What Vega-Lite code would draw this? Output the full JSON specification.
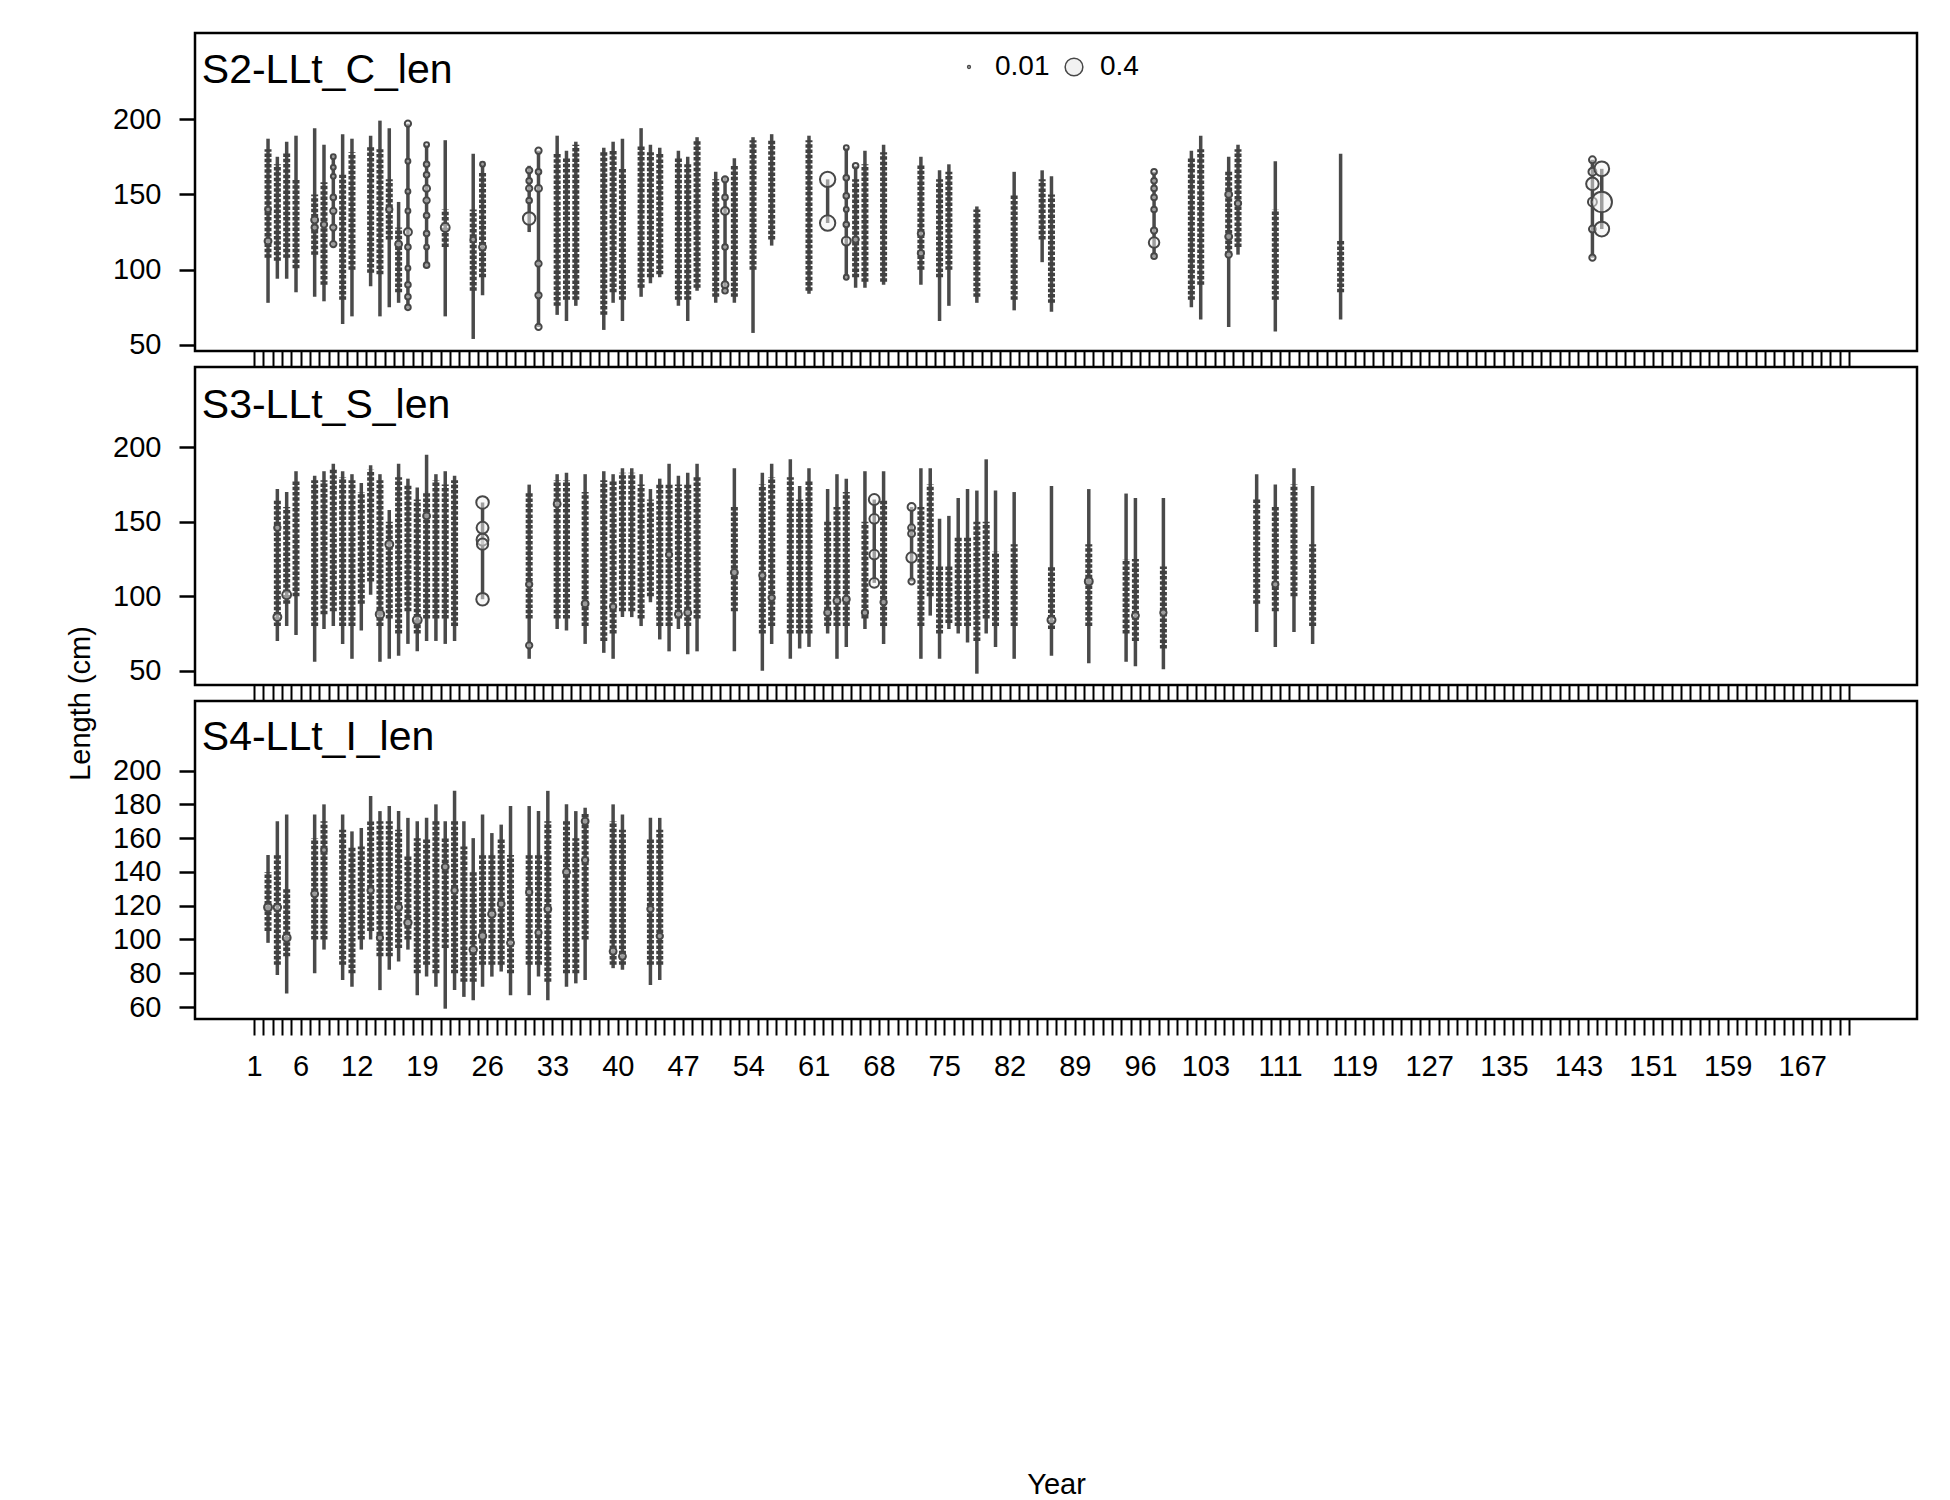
{
"$schema":"https://vega.github.io/schema/vega-lite/v6.json",
"padding":{"left":64,"top":31,"right":0,"bottom":0},
"config":{"font":"Liberation Sans","view":{"stroke":"black","strokeWidth":2.5},
"axis":{"domain":false,"grid":false,"tickColor":"black","labelColor":"black","labelFontSize":29,"titleFontSize":29,"titleFontWeight":"normal","titleColor":"black"},
"axisY":{"tickSize":16,"tickWidth":2.5,"labelPadding":18},
"axisX":{"tickSize":16,"tickWidth":2,"labelPadding":17,"tickCount":400}},
"datasets":{
"c":[
{"p":1,"x":2.5,"lo":78,"hi":187,"a":108,"b":180},{"p":1,"x":3.5,"lo":94,"hi":175,"a":106,"b":170},{"p":1,"x":4.5,"lo":94,"hi":185,"a":108,"b":178},{"p":1,"x":5.5,"lo":85,"hi":189,"a":101,"b":160},{"p":1,"x":7.5,"lo":82,"hi":194,"a":110,"b":150},{"p":1,"x":8.5,"lo":79,"hi":183,"a":90,"b":158},{"p":1,"x":9.5,"lo":115,"hi":176},{"p":1,"x":10.5,"lo":64,"hi":190,"a":80,"b":163},{"p":1,"x":11.5,"lo":69,"hi":187,"a":100,"b":178},{"p":1,"x":13.5,"lo":89,"hi":189,"a":98,"b":182},{"p":1,"x":14.5,"lo":69,"hi":199,"a":97,"b":180},{"p":1,"x":15.5,"lo":75,"hi":194,"a":120,"b":160},{"p":1,"x":16.5,"lo":78,"hi":145,"a":85,"b":128},{"p":1,"x":17.5,"lo":74,"hi":197},{"p":1,"x":19.5,"lo":101,"hi":183},{"p":1,"x":21.5,"lo":69,"hi":186,"a":115,"b":140},{"p":1,"x":24.5,"lo":54,"hi":177,"a":86,"b":140},{"p":1,"x":25.5,"lo":83,"hi":171,"a":95,"b":165},{"p":1,"x":30.5,"lo":125,"hi":169},{"p":1,"x":31.5,"lo":62,"hi":179},{"p":1,"x":33.5,"lo":70,"hi":189,"a":76,"b":177},{"p":1,"x":34.5,"lo":66,"hi":179,"a":80,"b":175},{"p":1,"x":35.5,"lo":76,"hi":185,"a":80,"b":183},{"p":1,"x":38.5,"lo":60,"hi":181,"a":70,"b":178},{"p":1,"x":39.5,"lo":78,"hi":185,"a":85,"b":180},{"p":1,"x":40.5,"lo":66,"hi":187,"a":80,"b":168},{"p":1,"x":42.5,"lo":82,"hi":194,"a":88,"b":183},{"p":1,"x":43.5,"lo":91,"hi":183,"a":95,"b":178},{"p":1,"x":44.5,"lo":95,"hi":181,"a":97,"b":178},{"p":1,"x":46.5,"lo":76,"hi":179,"a":80,"b":175},{"p":1,"x":47.5,"lo":66,"hi":175,"a":80,"b":170},{"p":1,"x":48.5,"lo":86,"hi":188,"a":88,"b":186},{"p":1,"x":50.5,"lo":78,"hi":165,"a":82,"b":160},{"p":1,"x":51.5,"lo":85,"hi":162},{"p":1,"x":52.5,"lo":78,"hi":174,"a":82,"b":170},{"p":1,"x":54.5,"lo":58,"hi":188,"a":100,"b":186},{"p":1,"x":56.5,"lo":116,"hi":190,"a":120,"b":186},{"p":1,"x":60.5,"lo":84,"hi":189,"a":86,"b":186},{"p":1,"x":62.5,"lo":131,"hi":160},{"p":1,"x":64.5,"lo":94,"hi":181},{"p":1,"x":65.5,"lo":88,"hi":169,"a":95,"b":160},{"p":1,"x":66.5,"lo":88,"hi":179,"a":92,"b":170},{"p":1,"x":68.5,"lo":90,"hi":183,"a":92,"b":178},{"p":1,"x":72.5,"lo":90,"hi":175,"a":100,"b":170},{"p":1,"x":74.5,"lo":66,"hi":166,"a":95,"b":160},{"p":1,"x":75.5,"lo":76,"hi":170,"a":100,"b":165},{"p":1,"x":78.5,"lo":78,"hi":142,"a":82,"b":140},{"p":1,"x":82.5,"lo":73,"hi":165,"a":80,"b":150},{"p":1,"x":85.5,"lo":105,"hi":166,"a":120,"b":160},{"p":1,"x":86.5,"lo":72,"hi":162,"a":78,"b":150},{"p":1,"x":97.5,"lo":108,"hi":165},{"p":1,"x":101.5,"lo":75,"hi":179,"a":80,"b":175},{"p":1,"x":102.5,"lo":67,"hi":189,"a":90,"b":180},{"p":1,"x":105.5,"lo":62,"hi":175,"a":110,"b":165},{"p":1,"x":106.5,"lo":110,"hi":183,"a":115,"b":180},{"p":1,"x":110.5,"lo":59,"hi":172,"a":80,"b":140},{"p":1,"x":117.5,"lo":67,"hi":177,"a":85,"b":120},{"p":1,"x":144.5,"lo":108,"hi":173},{"p":1,"x":145.5,"lo":127,"hi":167},
{"p":2,"x":3.5,"lo":70,"hi":172,"a":80,"b":165},{"p":2,"x":4.5,"lo":80,"hi":170,"a":95,"b":160},{"p":2,"x":5.5,"lo":74,"hi":184,"a":100,"b":178},{"p":2,"x":7.5,"lo":56,"hi":181,"a":80,"b":178},{"p":2,"x":8.5,"lo":78,"hi":184,"a":88,"b":178},{"p":2,"x":9.5,"lo":80,"hi":189,"a":90,"b":185},{"p":2,"x":10.5,"lo":68,"hi":184,"a":80,"b":180},{"p":2,"x":11.5,"lo":58,"hi":182,"a":80,"b":178},{"p":2,"x":12.5,"lo":77,"hi":176,"a":95,"b":170},{"p":2,"x":13.5,"lo":101,"hi":188,"a":110,"b":185},{"p":2,"x":14.5,"lo":56,"hi":182,"a":80,"b":178},{"p":2,"x":15.5,"lo":58,"hi":158,"a":85,"b":150},{"p":2,"x":16.5,"lo":60,"hi":189,"a":75,"b":180},{"p":2,"x":17.5,"lo":68,"hi":179,"a":90,"b":175},{"p":2,"x":18.5,"lo":63,"hi":173,"a":75,"b":165},{"p":2,"x":19.5,"lo":70,"hi":195,"a":85,"b":170},{"p":2,"x":20.5,"lo":70,"hi":182,"a":85,"b":178},{"p":2,"x":21.5,"lo":68,"hi":184,"a":85,"b":175},{"p":2,"x":22.5,"lo":70,"hi":181,"a":80,"b":178},{"p":2,"x":25.5,"lo":98,"hi":163},{"p":2,"x":30.5,"lo":58,"hi":175,"a":85,"b":170},{"p":2,"x":33.5,"lo":78,"hi":182,"a":85,"b":178},{"p":2,"x":34.5,"lo":77,"hi":183,"a":85,"b":178},{"p":2,"x":36.5,"lo":68,"hi":182,"a":80,"b":170},{"p":2,"x":38.5,"lo":62,"hi":184,"a":70,"b":178},{"p":2,"x":39.5,"lo":58,"hi":182,"a":75,"b":178},{"p":2,"x":40.5,"lo":86,"hi":186,"a":90,"b":183},{"p":2,"x":41.5,"lo":86,"hi":186,"a":90,"b":183},{"p":2,"x":42.5,"lo":80,"hi":182,"a":85,"b":175},{"p":2,"x":43.5,"lo":96,"hi":172,"a":100,"b":165},{"p":2,"x":44.5,"lo":71,"hi":179,"a":80,"b":175},{"p":2,"x":45.5,"lo":63,"hi":189,"a":80,"b":175},{"p":2,"x":46.5,"lo":78,"hi":181,"a":85,"b":175},{"p":2,"x":47.5,"lo":61,"hi":183,"a":80,"b":175},{"p":2,"x":48.5,"lo":63,"hi":189,"a":85,"b":180},{"p":2,"x":52.5,"lo":63,"hi":186,"a":90,"b":160},{"p":2,"x":55.5,"lo":50,"hi":183,"a":75,"b":175},{"p":2,"x":56.5,"lo":68,"hi":189,"a":80,"b":180},{"p":2,"x":58.5,"lo":58,"hi":192,"a":75,"b":180},{"p":2,"x":59.5,"lo":65,"hi":174,"a":75,"b":165},{"p":2,"x":60.5,"lo":66,"hi":186,"a":75,"b":178},{"p":2,"x":62.5,"lo":75,"hi":172,"a":80,"b":150},{"p":2,"x":63.5,"lo":58,"hi":182,"a":80,"b":160},{"p":2,"x":64.5,"lo":66,"hi":179,"a":80,"b":170},{"p":2,"x":66.5,"lo":78,"hi":184,"a":85,"b":150},{"p":2,"x":67.5,"lo":109,"hi":165},{"p":2,"x":68.5,"lo":68,"hi":184,"a":80,"b":165},{"p":2,"x":71.5,"lo":110,"hi":160},{"p":2,"x":72.5,"lo":58,"hi":186,"a":80,"b":160},{"p":2,"x":73.5,"lo":87,"hi":186,"a":100,"b":175},{"p":2,"x":74.5,"lo":58,"hi":152,"a":75,"b":120},{"p":2,"x":75.5,"lo":78,"hi":154,"a":82,"b":120},{"p":2,"x":76.5,"lo":75,"hi":166,"a":80,"b":140},{"p":2,"x":77.5,"lo":69,"hi":172,"a":80,"b":140},{"p":2,"x":78.5,"lo":48,"hi":171,"a":70,"b":150},{"p":2,"x":79.5,"lo":75,"hi":192,"a":85,"b":150},{"p":2,"x":80.5,"lo":66,"hi":171,"a":80,"b":130},{"p":2,"x":82.5,"lo":58,"hi":170,"a":80,"b":135},{"p":2,"x":86.5,"lo":60,"hi":174,"a":78,"b":120},{"p":2,"x":90.5,"lo":55,"hi":172,"a":80,"b":135},{"p":2,"x":94.5,"lo":56,"hi":169,"a":75,"b":125},{"p":2,"x":95.5,"lo":53,"hi":166,"a":70,"b":125},{"p":2,"x":98.5,"lo":51,"hi":166,"a":65,"b":120},{"p":2,"x":108.5,"lo":76,"hi":182,"a":95,"b":165},{"p":2,"x":110.5,"lo":66,"hi":175,"a":90,"b":160},{"p":2,"x":112.5,"lo":76,"hi":186,"a":100,"b":175},{"p":2,"x":114.5,"lo":68,"hi":174,"a":80,"b":135},
{"p":3,"x":2.5,"lo":98,"hi":150,"a":105,"b":140},{"p":3,"x":3.5,"lo":79,"hi":170,"a":85,"b":150},{"p":3,"x":4.5,"lo":68,"hi":174,"a":90,"b":130},{"p":3,"x":7.5,"lo":80,"hi":174,"a":100,"b":160},{"p":3,"x":8.5,"lo":94,"hi":180,"a":100,"b":170},{"p":3,"x":10.5,"lo":76,"hi":174,"a":85,"b":165},{"p":3,"x":11.5,"lo":72,"hi":164,"a":80,"b":155},{"p":3,"x":12.5,"lo":94,"hi":166,"a":100,"b":155},{"p":3,"x":13.5,"lo":100,"hi":185,"a":105,"b":170},{"p":3,"x":14.5,"lo":70,"hi":176,"a":90,"b":170},{"p":3,"x":15.5,"lo":82,"hi":179,"a":90,"b":170},{"p":3,"x":16.5,"lo":87,"hi":176,"a":95,"b":165},{"p":3,"x":17.5,"lo":94,"hi":172,"a":100,"b":150},{"p":3,"x":18.5,"lo":67,"hi":170,"a":80,"b":160},{"p":3,"x":19.5,"lo":78,"hi":172,"a":85,"b":160},{"p":3,"x":20.5,"lo":72,"hi":180,"a":80,"b":170},{"p":3,"x":21.5,"lo":59,"hi":170,"a":95,"b":160},{"p":3,"x":22.5,"lo":70,"hi":188,"a":80,"b":170},{"p":3,"x":23.5,"lo":66,"hi":170,"a":75,"b":155},{"p":3,"x":24.5,"lo":64,"hi":160,"a":75,"b":140},{"p":3,"x":25.5,"lo":72,"hi":174,"a":85,"b":150},{"p":3,"x":26.5,"lo":78,"hi":163,"a":85,"b":150},{"p":3,"x":27.5,"lo":81,"hi":168,"a":85,"b":160},{"p":3,"x":28.5,"lo":67,"hi":179,"a":80,"b":150},{"p":3,"x":30.5,"lo":67,"hi":179,"a":85,"b":150},{"p":3,"x":31.5,"lo":78,"hi":176,"a":85,"b":150},{"p":3,"x":32.5,"lo":64,"hi":188,"a":75,"b":170},{"p":3,"x":34.5,"lo":72,"hi":180,"a":80,"b":170},{"p":3,"x":35.5,"lo":74,"hi":176,"a":80,"b":160},{"p":3,"x":36.5,"lo":76,"hi":178,"a":100,"b":175},{"p":3,"x":39.5,"lo":83,"hi":180,"a":85,"b":170},{"p":3,"x":40.5,"lo":82,"hi":174,"a":85,"b":165},{"p":3,"x":43.5,"lo":73,"hi":172,"a":85,"b":160},{"p":3,"x":44.5,"lo":76,"hi":172,"a":85,"b":165}
],
"b":[
{"p":1,"x":2.5,"l":119,"s":0.06},{"p":1,"x":2.5,"l":140,"s":0.04},{"p":1,"x":7.5,"l":133,"s":0.06},{"p":1,"x":7.5,"l":128,"s":0.05},{"p":1,"x":8.5,"l":130,"s":0.05},
{"p":1,"x":9.5,"l":175,"s":0.03},{"p":1,"x":9.5,"l":168,"s":0.03},{"p":1,"x":9.5,"l":162,"s":0.03},{"p":1,"x":9.5,"l":148,"s":0.04},{"p":1,"x":9.5,"l":139,"s":0.05},{"p":1,"x":9.5,"l":128,"s":0.05},{"p":1,"x":9.5,"l":117,"s":0.05},
{"p":1,"x":15.5,"l":140,"s":0.05},{"p":1,"x":16.5,"l":117,"s":0.06},
{"p":1,"x":17.5,"l":197,"s":0.05},{"p":1,"x":17.5,"l":172,"s":0.03},{"p":1,"x":17.5,"l":152,"s":0.03},{"p":1,"x":17.5,"l":139,"s":0.03},{"p":1,"x":17.5,"l":125,"s":0.08},{"p":1,"x":17.5,"l":115,"s":0.04},{"p":1,"x":17.5,"l":101,"s":0.03},{"p":1,"x":17.5,"l":90,"s":0.04},{"p":1,"x":17.5,"l":82,"s":0.04},{"p":1,"x":17.5,"l":75,"s":0.04},
{"p":1,"x":19.5,"l":183,"s":0.03},{"p":1,"x":19.5,"l":170,"s":0.04},{"p":1,"x":19.5,"l":163,"s":0.04},{"p":1,"x":19.5,"l":154,"s":0.06},{"p":1,"x":19.5,"l":146,"s":0.05},{"p":1,"x":19.5,"l":136,"s":0.04},{"p":1,"x":19.5,"l":124,"s":0.04},{"p":1,"x":19.5,"l":115,"s":0.03},{"p":1,"x":19.5,"l":103,"s":0.04},
{"p":1,"x":21.5,"l":128,"s":0.1},{"p":1,"x":24.5,"l":120,"s":0.04},{"p":1,"x":25.5,"l":115,"s":0.06},{"p":1,"x":25.5,"l":170,"s":0.03},
{"p":1,"x":30.5,"l":166,"s":0.05},{"p":1,"x":30.5,"l":159,"s":0.04},{"p":1,"x":30.5,"l":154,"s":0.05},{"p":1,"x":30.5,"l":146,"s":0.04},{"p":1,"x":30.5,"l":134,"s":0.2},
{"p":1,"x":31.5,"l":179,"s":0.05},{"p":1,"x":31.5,"l":165,"s":0.04},{"p":1,"x":31.5,"l":154,"s":0.06},{"p":1,"x":31.5,"l":104,"s":0.05},{"p":1,"x":31.5,"l":83,"s":0.05},{"p":1,"x":31.5,"l":62,"s":0.05},
{"p":1,"x":51.5,"l":160,"s":0.05},{"p":1,"x":51.5,"l":148,"s":0.04},{"p":1,"x":51.5,"l":139,"s":0.08},{"p":1,"x":51.5,"l":115,"s":0.04},{"p":1,"x":51.5,"l":90,"s":0.06},{"p":1,"x":51.5,"l":86,"s":0.04},
{"p":1,"x":62.5,"l":160,"s":0.3},{"p":1,"x":62.5,"l":131,"s":0.3},
{"p":1,"x":64.5,"l":181,"s":0.03},{"p":1,"x":64.5,"l":161,"s":0.04},{"p":1,"x":64.5,"l":149,"s":0.04},{"p":1,"x":64.5,"l":140,"s":0.03},{"p":1,"x":64.5,"l":130,"s":0.04},{"p":1,"x":64.5,"l":119,"s":0.1},{"p":1,"x":64.5,"l":95,"s":0.03},
{"p":1,"x":65.5,"l":169,"s":0.04},{"p":1,"x":65.5,"l":120,"s":0.05},{"p":1,"x":72.5,"l":124,"s":0.05},{"p":1,"x":72.5,"l":111,"s":0.05},
{"p":1,"x":97.5,"l":165,"s":0.04},{"p":1,"x":97.5,"l":159,"s":0.04},{"p":1,"x":97.5,"l":154,"s":0.04},{"p":1,"x":97.5,"l":148,"s":0.04},{"p":1,"x":97.5,"l":140,"s":0.04},{"p":1,"x":97.5,"l":126,"s":0.05},{"p":1,"x":97.5,"l":118,"s":0.14},{"p":1,"x":97.5,"l":109,"s":0.04},
{"p":1,"x":105.5,"l":150,"s":0.06},{"p":1,"x":105.5,"l":122,"s":0.06},{"p":1,"x":105.5,"l":110,"s":0.05},{"p":1,"x":106.5,"l":144,"s":0.05},
{"p":1,"x":144.5,"l":173,"s":0.06},{"p":1,"x":144.5,"l":165,"s":0.08},{"p":1,"x":144.5,"l":157,"s":0.2},{"p":1,"x":144.5,"l":145,"s":0.1},{"p":1,"x":144.5,"l":127,"s":0.06},{"p":1,"x":144.5,"l":108,"s":0.05},
{"p":1,"x":145.5,"l":167,"s":0.28},{"p":1,"x":145.5,"l":145,"s":0.53},{"p":1,"x":145.5,"l":127,"s":0.28},
{"p":2,"x":3.5,"l":86,"s":0.08},{"p":2,"x":3.5,"l":146,"s":0.05},{"p":2,"x":4.5,"l":101,"s":0.1},{"p":2,"x":14.5,"l":88,"s":0.09},{"p":2,"x":15.5,"l":135,"s":0.08},{"p":2,"x":18.5,"l":84,"s":0.1},{"p":2,"x":19.5,"l":154,"s":0.06},
{"p":2,"x":25.5,"l":163,"s":0.2},{"p":2,"x":25.5,"l":146,"s":0.18},{"p":2,"x":25.5,"l":138,"s":0.18},{"p":2,"x":25.5,"l":135,"s":0.16},{"p":2,"x":25.5,"l":98,"s":0.2},
{"p":2,"x":30.5,"l":108,"s":0.05},{"p":2,"x":30.5,"l":67,"s":0.05},{"p":2,"x":33.5,"l":162,"s":0.06},{"p":2,"x":36.5,"l":95,"s":0.06},{"p":2,"x":39.5,"l":93,"s":0.05},{"p":2,"x":45.5,"l":128,"s":0.05},{"p":2,"x":46.5,"l":88,"s":0.06},{"p":2,"x":47.5,"l":89,"s":0.06},{"p":2,"x":52.5,"l":116,"s":0.06},{"p":2,"x":55.5,"l":114,"s":0.05},{"p":2,"x":56.5,"l":99,"s":0.05},{"p":2,"x":62.5,"l":89,"s":0.06},{"p":2,"x":63.5,"l":97,"s":0.06},{"p":2,"x":64.5,"l":98,"s":0.06},{"p":2,"x":66.5,"l":89,"s":0.05},
{"p":2,"x":67.5,"l":165,"s":0.15},{"p":2,"x":67.5,"l":152,"s":0.12},{"p":2,"x":67.5,"l":128,"s":0.12},{"p":2,"x":67.5,"l":109,"s":0.12},{"p":2,"x":68.5,"l":96,"s":0.05},
{"p":2,"x":71.5,"l":160,"s":0.08},{"p":2,"x":71.5,"l":146,"s":0.06},{"p":2,"x":71.5,"l":142,"s":0.06},{"p":2,"x":71.5,"l":126,"s":0.14},{"p":2,"x":71.5,"l":110,"s":0.05},
{"p":2,"x":86.5,"l":84,"s":0.08},{"p":2,"x":90.5,"l":110,"s":0.08},{"p":2,"x":95.5,"l":87,"s":0.06},{"p":2,"x":98.5,"l":89,"s":0.05},{"p":2,"x":110.5,"l":108,"s":0.05},
{"p":3,"x":2.5,"l":119,"s":0.08},{"p":3,"x":3.5,"l":119,"s":0.07},{"p":3,"x":4.5,"l":101,"s":0.08},{"p":3,"x":7.5,"l":127,"s":0.06},{"p":3,"x":8.5,"l":153,"s":0.04},{"p":3,"x":13.5,"l":129,"s":0.05},{"p":3,"x":14.5,"l":101,"s":0.05},{"p":3,"x":16.5,"l":119,"s":0.06},{"p":3,"x":17.5,"l":110,"s":0.07},{"p":3,"x":21.5,"l":143,"s":0.06},{"p":3,"x":22.5,"l":129,"s":0.05},{"p":3,"x":24.5,"l":94,"s":0.07},{"p":3,"x":25.5,"l":102,"s":0.07},{"p":3,"x":26.5,"l":115,"s":0.07},{"p":3,"x":27.5,"l":121,"s":0.06},{"p":3,"x":28.5,"l":98,"s":0.06},{"p":3,"x":30.5,"l":128,"s":0.05},{"p":3,"x":31.5,"l":104,"s":0.05},{"p":3,"x":32.5,"l":118,"s":0.06},{"p":3,"x":34.5,"l":140,"s":0.06},{"p":3,"x":36.5,"l":170,"s":0.06},{"p":3,"x":36.5,"l":147,"s":0.05},{"p":3,"x":39.5,"l":93,"s":0.06},{"p":3,"x":40.5,"l":90,"s":0.06},{"p":3,"x":43.5,"l":118,"s":0.05},{"p":3,"x":44.5,"l":102,"s":0.05}
]},
"spacing":16,
"bounds":"flush",
"resolve":{"scale":{"size":"independent"}},
"vconcat":[
{"width":1722,"height":318,
"layer":[
{"data":{"name":"c"},"transform":[{"filter":"datum.p==1"}],"mark":{"type":"rule","color":"#4a4a4a","strokeWidth":3.5},
"encoding":{"x":{"field":"x","type":"quantitative","scale":{"domain":[-5.33,179.3],"nice":false,"zero":false},"axis":{"values":[1,2,3,4,5,6,7,8,9,10,11,12,13,14,15,16,17,18,19,20,21,22,23,24,25,26,27,28,29,30,31,32,33,34,35,36,37,38,39,40,41,42,43,44,45,46,47,48,49,50,51,52,53,54,55,56,57,58,59,60,61,62,63,64,65,66,67,68,69,70,71,72,73,74,75,76,77,78,79,80,81,82,83,84,85,86,87,88,89,90,91,92,93,94,95,96,97,98,99,100,101,102,103,104,105,106,107,108,109,110,111,112,113,114,115,116,117,118,119,120,121,122,123,124,125,126,127,128,129,130,131,132,133,134,135,136,137,138,139,140,141,142,143,144,145,146,147,148,149,150,151,152,153,154,155,156,157,158,159,160,161,162,163,164,165,166,167,168,169,170,171,172],"tickCount":400,"labels":false,"title":null}},
"y":{"field":"lo","type":"quantitative","scale":{"domain":[46,257.2],"nice":false,"zero":false},"axis":{"values":[50,100,150,200],"title":null}},"y2":{"field":"hi"}}},
{"data":{"name":"c"},"transform":[{"filter":"datum.p==1"}],"mark":{"type":"rule","color":"#404040","strokeWidth":7,"strokeDash":[3.5,1.8]},
"encoding":{"x":{"field":"x","type":"quantitative","scale":{"domain":[-5.33,179.3],"nice":false,"zero":false}},
"y":{"field":"a","type":"quantitative","scale":{"domain":[46,257.2],"nice":false,"zero":false}},"y2":{"field":"b"}}},
{"data":{"name":"b"},"transform":[{"filter":"datum.p==1"}],"mark":{"type":"point","shape":"circle","filled":true,"fill":"#f2f2f2","fillOpacity":0.5,"stroke":"#474747","strokeWidth":2,"opacity":1},
"encoding":{"x":{"field":"x","type":"quantitative","scale":{"domain":[-5.33,179.3],"nice":false,"zero":false}},
"y":{"field":"l","type":"quantitative","scale":{"domain":[46,257.2],"nice":false,"zero":false}},
"size":{"field":"s","type":"quantitative","scale":{"type":"linear","domain":[0,0.4],"range":[0,314],"zero":true},
"legend":{"values":[0.01,0.4],"direction":"horizontal","orient":"none","legendX":760,"legendY":20,"title":null,"labelFontSize":28,"labelOffset":12,"columnPadding":10,"symbolType":"circle","format":"~g","labelColor":"black","encode":{"symbols":{"update":{"stroke":{"value":"#4a4a4a"},"strokeWidth":{"value":2},"fill":{"value":"#ffffff"},"fillOpacity":{"value":1},"opacity":{"value":1}}}}}}}},
{"data":{"values":[{"t":"S2-LLt_C_len"}]},"mark":{"type":"text","align":"left","baseline":"alphabetic","fontSize":41,"color":"black"},
"encoding":{"text":{"field":"t"},"x":{"datum":-4.6,"type":"quantitative","scale":{"domain":[-5.33,179.3],"nice":false,"zero":false}},"y":{"datum":224.3,"type":"quantitative","scale":{"domain":[46,257.2],"nice":false,"zero":false}}}}
]},
{"width":1722,"height":318,
"layer":[
{"data":{"name":"c"},"transform":[{"filter":"datum.p==2"}],"mark":{"type":"rule","color":"#4a4a4a","strokeWidth":3.5},
"encoding":{"x":{"field":"x","type":"quantitative","scale":{"domain":[-5.33,179.3],"nice":false,"zero":false},"axis":{"values":[1,2,3,4,5,6,7,8,9,10,11,12,13,14,15,16,17,18,19,20,21,22,23,24,25,26,27,28,29,30,31,32,33,34,35,36,37,38,39,40,41,42,43,44,45,46,47,48,49,50,51,52,53,54,55,56,57,58,59,60,61,62,63,64,65,66,67,68,69,70,71,72,73,74,75,76,77,78,79,80,81,82,83,84,85,86,87,88,89,90,91,92,93,94,95,96,97,98,99,100,101,102,103,104,105,106,107,108,109,110,111,112,113,114,115,116,117,118,119,120,121,122,123,124,125,126,127,128,129,130,131,132,133,134,135,136,137,138,139,140,141,142,143,144,145,146,147,148,149,150,151,152,153,154,155,156,157,158,159,160,161,162,163,164,165,166,167,168,169,170,171,172],"tickCount":400,"labels":false,"title":null}},
"y":{"field":"lo","type":"quantitative","scale":{"domain":[40.4,254],"nice":false,"zero":false},"axis":{"values":[50,100,150,200],"title":"Length (cm)","titleX":-115,"titleY":336,"titleAngle":-90,"titleBaseline":"middle","titleAlign":"center"}},"y2":{"field":"hi"}}},
{"data":{"name":"c"},"transform":[{"filter":"datum.p==2"}],"mark":{"type":"rule","color":"#404040","strokeWidth":7,"strokeDash":[3.5,1.8]},
"encoding":{"x":{"field":"x","type":"quantitative","scale":{"domain":[-5.33,179.3],"nice":false,"zero":false}},
"y":{"field":"a","type":"quantitative","scale":{"domain":[40.4,254],"nice":false,"zero":false}},"y2":{"field":"b"}}},
{"data":{"name":"b"},"transform":[{"filter":"datum.p==2"}],"mark":{"type":"point","shape":"circle","filled":true,"fill":"#f2f2f2","fillOpacity":0.5,"stroke":"#474747","strokeWidth":2,"opacity":1},
"encoding":{"x":{"field":"x","type":"quantitative","scale":{"domain":[-5.33,179.3],"nice":false,"zero":false}},
"y":{"field":"l","type":"quantitative","scale":{"domain":[40.4,254],"nice":false,"zero":false}},
"size":{"field":"s","type":"quantitative","scale":{"type":"linear","domain":[0,0.4],"range":[0,314],"zero":true},"legend":null}}},
{"data":{"values":[{"t":"S3-LLt_S_len"}]},"mark":{"type":"text","align":"left","baseline":"alphabetic","fontSize":41,"color":"black"},
"encoding":{"text":{"field":"t"},"x":{"datum":-4.6,"type":"quantitative","scale":{"domain":[-5.33,179.3],"nice":false,"zero":false}},"y":{"datum":219.9,"type":"quantitative","scale":{"domain":[40.4,254],"nice":false,"zero":false}}}}
]},
{"width":1722,"height":318,
"layer":[
{"data":{"name":"c"},"transform":[{"filter":"datum.p==3"}],"mark":{"type":"rule","color":"#4a4a4a","strokeWidth":3.5},
"encoding":{"x":{"field":"x","type":"quantitative","scale":{"domain":[-5.33,179.3],"nice":false,"zero":false},"axis":{"values":[1,2,3,4,5,6,7,8,9,10,11,12,13,14,15,16,17,18,19,20,21,22,23,24,25,26,27,28,29,30,31,32,33,34,35,36,37,38,39,40,41,42,43,44,45,46,47,48,49,50,51,52,53,54,55,56,57,58,59,60,61,62,63,64,65,66,67,68,69,70,71,72,73,74,75,76,77,78,79,80,81,82,83,84,85,86,87,88,89,90,91,92,93,94,95,96,97,98,99,100,101,102,103,104,105,106,107,108,109,110,111,112,113,114,115,116,117,118,119,120,121,122,123,124,125,126,127,128,129,130,131,132,133,134,135,136,137,138,139,140,141,142,143,144,145,146,147,148,149,150,151,152,153,154,155,156,157,158,159,160,161,162,163,164,165,166,167,168,169,170,171,172],"tickCount":400,"format":"d","labelExpr":"indexof([1,6,12,19,26,33,40,47,54,61,68,75,82,89,96,103,111,119,127,135,143,151,159,167], datum.value) >= 0 ? datum.label : ''","labelOverlap":false,"labelFlush":false,"title":"Year","titleX":861,"titleY":465,"titleBaseline":"middle","titleAlign":"center"}},
"y":{"field":"lo","type":"quantitative","scale":{"domain":[52.9,241.2],"nice":false,"zero":false},"axis":{"values":[60,80,100,120,140,160,180,200],"title":null}},"y2":{"field":"hi"}}},
{"data":{"name":"c"},"transform":[{"filter":"datum.p==3"}],"mark":{"type":"rule","color":"#404040","strokeWidth":7,"strokeDash":[3.5,1.8]},
"encoding":{"x":{"field":"x","type":"quantitative","scale":{"domain":[-5.33,179.3],"nice":false,"zero":false}},
"y":{"field":"a","type":"quantitative","scale":{"domain":[52.9,241.2],"nice":false,"zero":false}},"y2":{"field":"b"}}},
{"data":{"name":"b"},"transform":[{"filter":"datum.p==3"}],"mark":{"type":"point","shape":"circle","filled":true,"fill":"#f2f2f2","fillOpacity":0.5,"stroke":"#474747","strokeWidth":2,"opacity":1},
"encoding":{"x":{"field":"x","type":"quantitative","scale":{"domain":[-5.33,179.3],"nice":false,"zero":false}},
"y":{"field":"l","type":"quantitative","scale":{"domain":[52.9,241.2],"nice":false,"zero":false}},
"size":{"field":"s","type":"quantitative","scale":{"type":"linear","domain":[0,0.4],"range":[0,314],"zero":true},"legend":null}}},
{"data":{"values":[{"t":"S4-LLt_I_len"}]},"mark":{"type":"text","align":"left","baseline":"alphabetic","fontSize":41,"color":"black"},
"encoding":{"text":{"field":"t"},"x":{"datum":-4.6,"type":"quantitative","scale":{"domain":[-5.33,179.3],"nice":false,"zero":false}},"y":{"datum":212.2,"type":"quantitative","scale":{"domain":[52.9,241.2],"nice":false,"zero":false}}}}
]}
]}
